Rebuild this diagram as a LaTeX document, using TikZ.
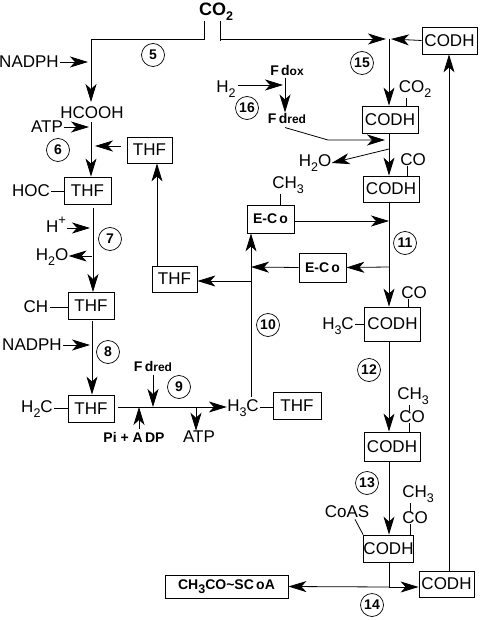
\documentclass[tikz,border=0pt]{standalone}
\usepackage{fontspec}
\setmainfont{Liberation Sans}
\usetikzlibrary{arrows.meta}
\newcommand\lab{\fontsize{17}{17}\selectfont}
\newcommand\smb{\fontsize{14}{14}\selectfont\bfseries}
\newcommand\lowr[1]{\raisebox{-0.28em}{\fontsize{12.5}{12.5}\selectfont #1}}
\newcommand\uppr[1]{\raisebox{0.45em}{\fontsize{13}{13}\selectfont #1}}
\begin{document}
\begin{tikzpicture}[x=1pt,y=-1pt,
  every path/.style={line width=0.8pt},
  arr/.style={-{Stealth[length=18pt,width=11pt,inset=5pt]}},
  lbl/.style={inner sep=0pt,font=\lab},
  sb/.style={inner sep=0pt,font=\smb},
  box/.style={draw,inner sep=0pt,font=\lab,line width=0.8pt},
  thf/.style={box,minimum width=46pt,minimum height=27pt},
  codh/.style={box,minimum width=56pt,minimum height=28pt},
  num/.style={draw,circle,minimum size=23pt,inner sep=0pt,line width=0.7pt,font=\fontsize{14}{14}\selectfont\bfseries}]
\useasboundingbox (0,0) rectangle (481,620);
\fill[white] (0,0) rectangle (481,620);

% ---------- text labels ----------
\node[lbl,font=\fontsize{18}{18}\selectfont\bfseries] (co2) at (216,12) {CO\lowr{2}};
\node[lbl] (nadph1) at (29,62) {NADPH};
\node[lbl] (hcooh) at (92,113) {HCOOH};
\node[lbl] (atp1) at (47,127) {ATP};
\node[lbl] (hoc) at (31,191) {HOC};
\node[lbl] (hplus) at (56,225) {H\uppr{+}};
\node[lbl] (h2oa) at (52,257) {H\lowr{2}O};
\node[lbl] (ch) at (36,307) {CH};
\node[lbl] (nadph2) at (32,345) {NADPH};
\node[lbl] (h2c) at (37,409) {H\lowr{2}C};
\node[sb] (fdreda) at (153,366) {F\,d{\fontsize{12}{12}\selectfont red}};
\node[sb] (piadp) at (134,437) {Pi + A\,DP};
\node[lbl] (atp2) at (199,437) {ATP};
\node[lbl] (h3ca) at (243,408) {H\lowr{3}C};
\node[lbl] (ch3a) at (288,185) {CH\lowr{3}};
\node[sb] (fdox) at (287,70) {F\,d{\fontsize{12}{12}\selectfont ox}};
\node[lbl] (h2) at (226,89) {H\lowr{2}};
\node[sb] (fdredb) at (287,118) {F\,d{\fontsize{12}{12}\selectfont red}};
\node[lbl] (co2b) at (415,89) {CO\lowr{2}};
\node[lbl] (h2ob) at (315,163) {H\lowr{2}O};
\node[lbl] (coa) at (413,160) {CO};
\node[lbl] (cob) at (414,293) {CO};
\node[lbl] (h3cb) at (338,326) {H\lowr{3}C};
\node[lbl] (ch3b) at (413,396) {CH\lowr{3}};
\node[lbl] (coc) at (412,417) {CO};
\node[lbl] (coas) at (347,512) {CoAS};
\node[lbl] (ch3c) at (418,494) {CH\lowr{3}};
\node[lbl] (cod) at (415,518) {CO};

% ---------- boxes ----------
\node[thf,minimum width=45pt,minimum height=26pt] (thf1) at (149.5,150) {THF};
\node[thf,minimum width=47pt] (thf2) at (87.5,190.5) {THF};
\node[thf] (thf3) at (91,306) {THF};
\node[thf] (thf4) at (91,408.5) {THF};
\node[thf,minimum width=48pt] (thf5) at (297,405.5) {THF};
\node[thf,minimum width=45pt,minimum height=26pt] (thf6) at (174.5,279) {THF};
\node[box,font=\smb,minimum width=47pt,minimum height=28pt] (eco1) at (270.5,219) {E-C\,o};
\node[box,font=\smb,minimum width=47pt,minimum height=29pt] (eco2) at (322.5,267.5) {E-C\,o};
\node[codh,minimum width=55pt,minimum height=27pt] (codh0) at (449.5,40.5) {CODH};
\node[codh,minimum height=27pt] (codh1) at (390,119.5) {CODH};
\node[codh,minimum height=26pt] (codh2) at (391,189) {CODH};
\node[codh,minimum height=34pt] (codh3) at (392.5,324) {CODH};
\node[codh,minimum height=29pt] (codh4) at (392,446.5) {CODH};
\node[codh,minimum width=49pt,minimum height=27pt] (codh5) at (388.5,548.5) {CODH};
\node[codh,minimum width=55pt,minimum height=26pt] (codh6) at (446.5,584) {CODH};
\node[box,font=\fontsize{14}{14}\selectfont\bfseries,minimum width=123pt,minimum height=23pt] (acoa) at (226.5,586.5) {CH\lowr{3}CO\textasciitilde SC\,oA};

% ---------- reaction numbers ----------
\node[num] (n5) at (153,55) {5};
\node[num] (n6) at (58,150) {6};
\node[num] (n7) at (110,239) {7};
\node[num] (n8) at (108,352) {8};
\node[num] (n9) at (179,387) {9};
\node[num] (n10) at (268,325) {10};
\node[num] (n11) at (405,243) {11};
\node[num] (n12) at (369,370) {12};
\node[num] (n13) at (367,483) {13};
\node[num] (n14) at (372,605) {14};
\node[num] (n15) at (362,63) {15};
\node[num] (n16) at (247,108) {16};

% ---------- junction coordinates ----------
\coordinate (jl) at (204,39);
\coordinate (jlc) at (91,39);
\coordinate (jr) at (220,39);
\coordinate (j15) at (389,39);
\coordinate (jfd) at (328,140);
\coordinate (j11a) at (389,221);
\coordinate (j11b) at (389,267);
\coordinate (jh2o) at (389,149);
\coordinate (jfdin) at (385,140);
\coordinate (j10a) at (251,267);
\coordinate (j10b) at (251,281);
\coordinate (j9a) at (153,407);
\coordinate (j9b) at (139,407);
\coordinate (j9c) at (196,407);
\coordinate (j14) at (389,587);

% ---------- left column ----------
\draw[arr] (jl |- co2.south) -- (jl) -- (jlc) -- (91,102);
\draw (jr |- co2.south) -- (220,41);
\draw[arr] (jr) -- (386,39);
\draw[arr] (codh0.west) -- (391,39);
\draw[arr] (j15) -- (codh1.north -| j15);
\draw[arr] (nadph1.east) ++(1,0) -- (88,62);
\draw[arr] (hcooh.south -| jlc) ++(0,3) -- (thf2.north -| jlc);
\draw[arr] (atp1.east) ++(1,0) -- (89,127);
\draw[arr] ([xshift=-6pt]thf1.west |- 0,146) -- (95,146);
\draw[arr] (93,208) -- (93,292);
\draw[arr] (hplus.east |- 0,228) ++(1,0) -- (90,228);
\draw[arr] (92,256) -- (h2oa.east |- 0,256);
\draw[arr] (92,321) -- (thf4.north -| 92,0);
\draw[arr] (nadph2.east) ++(1,0) -- (90,345);
\draw[arr] ([xshift=4pt]thf4.east |- 0,407) -- (h3ca.west |- 0,407);
\draw[arr] (fdreda.south -| j9a) ++(0,3) -- (j9a);
\draw[arr] (piadp.north -| j9b) ++(0,-3) -- (j9b);
\draw[arr] (j9c) -- (atp2.north -| j9c);
\draw (hoc.east) ++(1,0) -- (thf2.west |- 0,191);
\draw (ch.east) ++(1,0) -- (thf3.west |- 0,307);
\draw (h2c.east |- 0,408) ++(1,0) -- (thf4.west |- 0,408);
\draw (h3ca.east |- 0,407) ++(1,0) -- (thf5.west |- 0,407);

% ---------- E-Co / THF cycle ----------
\draw[arr] (h3ca.north -| j10a) ++(0,-2) -- (eco1.south -| j10a);
\draw[arr] (eco2.west) -- (251,267);
\draw[arr] (j10b) -- (thf6.east |- j10b);
\draw[arr] (thf6.north -| 157,0) -- (thf1.south -| 157,0);
\draw[arr] (eco1.east |- j11a) -- (j11a);
\draw (ch3a.south -| 280,0) -- (eco1.north -| 280,0);

% ---------- right column ----------
\draw[arr] (h2.east |- 0,85) ++(2,0) -- (283,85);
\draw[arr] (fdox.south -| 285,0) ++(0,2) -- (fdredb.north -| 285,0);
\draw[arr] (fdredb.south -| 285,0) ++(0,4) -- (jfd) -- (jfdin);
\draw[arr] (jh2o) -- (h2ob.east |- 0,163);
\draw[arr] (codh1.south -| j15) -- (codh2.north -| j15);
\draw[arr] (codh2.south -| j15) -- (codh3.north -| j15);
\draw[arr] (j11b) -- (eco2.east);
\draw[arr] (codh3.south -| j15) -- (codh4.north -| j15);
\draw[arr] (codh4.south -| j15) -- (codh5.north -| j15);
\draw (codh5.south -| j15) -- (j14);
\draw[arr] (j14) -- (acoa.east);
\draw[arr] (j14) -- (codh6.west |- j14);
\draw[arr] (codh6.north -| 449,0) -- (codh0.south -| 449,0);
\draw (co2b.south -| 406,0) -- (codh1.north -| 406,0);
\draw (coa.south -| 407,0) -- (codh2.north -| 407,0);
\draw (cob.south -| 408,0) -- (codh3.north -| 408,0);
\draw (h3cb.east |- 0,324) ++(1,0) -- (codh3.west |- 0,324);
\draw (ch3b.south -| 409,0) -- (coc.north -| 409,0);
\draw (coc.south -| 409,0) -- (codh4.north -| 409,0);
\draw (coas.south) ++(8,1) -- (codh5.north west);
\draw (ch3c.south -| 410,0) -- (cod.north -| 410,0);
\draw (cod.south -| 410,0) -- (codh5.north -| 410,0);
\end{tikzpicture}
\end{document}
